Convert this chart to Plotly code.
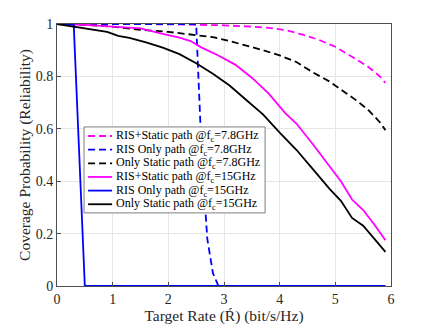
import plotly.graph_objects as go

# RIS + static path @ 7.8 GHz
x_ris_static_78 = [0, 1, 2, 2.5, 3.0, 3.5, 3.8, 4.1, 4.4, 4.7, 5.0, 5.3, 5.6, 5.8, 5.9]
y_ris_static_78 = [1, 1, 0.999, 0.997, 0.995, 0.99, 0.985, 0.977, 0.96, 0.94, 0.913, 0.875, 0.835, 0.8, 0.775]

# RIS only @ 7.8 GHz
x_ris_only_78 = [0, 1, 2, 2.5, 2.6, 2.7, 2.8, 2.9, 4, 5.9]
y_ris_only_78 = [1, 1, 1, 1, 0.5, 0.18, 0.05, 0, 0, 0]

# static only @ 7.8 GHz
x_static_78 = [0, 0.5, 1.0, 1.5, 2.0, 2.5, 2.8, 3.1, 3.4, 3.7, 4.0, 4.3, 4.6, 4.9, 5.2, 5.4, 5.6, 5.8, 5.9]
y_static_78 = [1, 0.997, 0.99, 0.978, 0.97, 0.959, 0.95, 0.935, 0.918, 0.9, 0.88, 0.855, 0.815, 0.78, 0.735, 0.705, 0.67, 0.625, 0.595]

# RIS + static path @ 15 GHz
x_ris_static_15 = [0, 0.5, 1.0, 1.5, 1.9, 2.2, 2.4, 2.6, 2.9, 3.2, 3.5, 3.8, 4.1, 4.3, 4.6, 4.9, 5.1, 5.3, 5.5, 5.7, 5.9]
y_ris_static_15 = [1, 0.997, 0.99, 0.983, 0.962, 0.948, 0.935, 0.91, 0.88, 0.845, 0.795, 0.735, 0.66, 0.62, 0.54, 0.455, 0.4, 0.33, 0.29, 0.235, 0.175]

# RIS only @ 15 GHz
x_ris_only_15 = [0, 0.3, 0.4, 0.5, 1, 5.9]
y_ris_only_15 = [1, 1, 0.5, 0, 0, 0]

# static only @ 15 GHz
x_static_15 = [0, 0.3, 0.6, 0.9, 1.1, 1.3, 1.6, 1.9, 2.2, 2.5, 2.8, 3.1, 3.4, 3.7, 4.0, 4.3, 4.6, 4.9, 5.1, 5.3, 5.5, 5.7, 5.9]
y_static_15 = [1, 0.99, 0.98, 0.97, 0.955, 0.947, 0.93, 0.91, 0.885, 0.85, 0.81, 0.765, 0.71, 0.655, 0.585, 0.52, 0.445, 0.37, 0.325, 0.26, 0.23, 0.18, 0.13]

x_ticks = [0, 1, 2, 3, 4, 5, 6]
y_ticks = [0, 0.2, 0.4, 0.6, 0.8, 1]
y_tick_labels = ['0', '0.2', '0.4', '0.6', '0.8', '1']

magenta = '#FF00FF'
blue = '#0000FF'
black = '#000000'

series = [
    (x_ris_static_78, y_ris_static_78, 'RIS+Static path @f<sub>c</sub>=7.8GHz', magenta, 'dash'),
    (x_ris_only_78, y_ris_only_78, 'RIS Only path @f<sub>c</sub>=7.8GHz', blue, 'dash'),
    (x_static_78, y_static_78, 'Only Static path @f<sub>c</sub>=7.8GHz', black, 'dash'),
    (x_ris_static_15, y_ris_static_15, 'RIS+Static path @f<sub>c</sub>=15GHz', magenta, 'solid'),
    (x_ris_only_15, y_ris_only_15, 'RIS Only path @f<sub>c</sub>=15GHz', blue, 'solid'),
    (x_static_15, y_static_15, 'Only Static path @f<sub>c</sub>=15GHz', black, 'solid'),
]

fig = go.Figure()
for xs, ys, name, color, dash in series:
    fig.add_trace(go.Scatter(x=xs, y=ys, name=name, mode='lines', showlegend=False,
                             line=dict(color=color, width=1.8, dash='7px,4px' if dash == 'dash' else 'solid')))

# compact MATLAB-like legend (plotly's own legend rows are too tall)
leg_x0, leg_x1, leg_y0, leg_y1 = 0.081, 0.623, 0.279, 0.607
fig.add_shape(type='rect', xref='paper', yref='paper', x0=leg_x0, x1=leg_x1, y0=leg_y0, y1=leg_y1,
              line=dict(color='#7f7f7f', width=1), fillcolor='white', layer='above')
row_h = 0.0521
for i, (xs, ys, name, color, dash) in enumerate(series):
    yy = 0.5725 - i * row_h
    fig.add_shape(type='line', xref='paper', yref='paper', x0=0.093, x1=0.165, y0=yy, y1=yy,
                  line=dict(color=color, width=1.8, dash='7px,4px' if dash == 'dash' else 'solid'),
                  layer='above')
    fig.add_annotation(x=0.171, y=yy, xref='paper', yref='paper', text=name, showarrow=False,
                       xanchor='left', yanchor='middle', font=dict(size=12, color='#000000'))

font_family = 'Liberation Serif, DejaVu Serif, serif'

fig.update_xaxes(range=[0, 6], tickvals=x_ticks, ticks='inside', ticklen=4, tickcolor='#4d4d4d',
                 showgrid=True, gridcolor='#e6e6e6', zeroline=False, automargin=False,
                 showline=True, linecolor='#4d4d4d', linewidth=1, mirror=True,
                 title=dict(text='Target Rate (Ŕ) (bit/s/Hz)', font=dict(size=15.5), standoff=4),
                 tickfont=dict(size=14))
fig.update_yaxes(range=[0, 1], tickvals=y_ticks, ticktext=y_tick_labels, ticks='inside', ticklen=4,
                 tickcolor='#4d4d4d', showgrid=True, gridcolor='#e6e6e6', zeroline=False, automargin=False,
                 showline=True, linecolor='#4d4d4d', linewidth=1, mirror=True,
                 title=dict(text='Coverage Probability (Reliability)', font=dict(size=15.5), standoff=1),
                 tickfont=dict(size=14))

# margins allow for the 8px body margin of the page
fig.update_layout(
    width=432, height=324,
    margin=dict(l=49, r=49, t=16, b=46),
    paper_bgcolor='white', plot_bgcolor='white',
    font=dict(family=font_family, color='#262626', size=12),
    showlegend=False,
)

fig.write_html("out.html")
